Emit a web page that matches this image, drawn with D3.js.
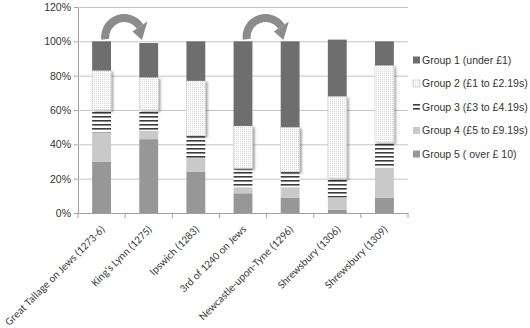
<!DOCTYPE html>
<html>
<head>
<meta charset="utf-8">
<script src="https://cdn.jsdelivr.net/npm/d3@7"></script>
<style>
  body { margin: 0; background: #fff; }
  svg { display: block; }
  .lbl { font-family: "Liberation Sans", Arial, sans-serif; }
</style>
</head>
<body>
<div id="chart"></div>
<script>
// data (percent of each tax list)
let categories = ["Great Tallage on Jews (1273-6)", "King's Lynn (1275)", "Ipswich (1283)",
    "3rd of 1240 on Jews", "Newcastle-upon-Tyne (1296)", "Shrewsbury (1306)", "Shrewsbury (1309)"];
let group1 = [17, 20, 23, 49.3, 50, 33, 14];
let group2 = [23, 19, 32, 24.7, 26, 48, 45];
let group3 = [13, 12, 13, 11, 9, 11, 14.5];
let group4 = [17, 5, 8, 3.5, 6, 7, 17.5];
let group5 = [30, 43, 24, 11.5, 9, 2, 9];
let groupNames = ["Group 1 (under \u00a31)", "Group 2 (\u00a31 to \u00a32.19s)", "Group 3 (\u00a33 to \u00a34.19s)",
    "Group 4 (\u00a35 to \u00a39.19s)", "Group 5 ( over \u00a3 10)"];
let yTicks = [0, 20, 40, 60, 80, 100, 120];
// arrows go from one bar to the next one
let arrowPairs = [[0, 1], [3, 4]];

let W = 530, H = 328;
let margin = {top: 7, right: 122, bottom: 115, left: 78};
let width = W - margin.left - margin.right,
    height = H - margin.top - margin.bottom;

let svg = d3.select("#chart").append("svg")
    .attr("width", W)
    .attr("height", H);

let defs = svg.append("defs");
let dots = defs.append("pattern")
    .attr("id", "dots").attr("patternUnits", "userSpaceOnUse")
    .attr("width", 2).attr("height", 2);
dots.append("rect").attr("width", 2).attr("height", 2).attr("fill", "#fff");
dots.append("rect").attr("width", 1).attr("height", 1).attr("fill", "#d6d6d6");

let stripes = defs.append("pattern")
    .attr("id", "stripes").attr("patternUnits", "userSpaceOnUse")
    .attr("width", 4).attr("height", 4);
stripes.append("rect").attr("width", 4).attr("height", 4).attr("fill", "#fff");
stripes.append("rect").attr("y", 1).attr("width", 4).attr("height", 1.6).attr("fill", "#3c3c3c");

let shadow = defs.append("filter").attr("id", "shadow")
    .attr("x", "-30%").attr("y", "-10%").attr("width", "160%").attr("height", "130%");
shadow.append("feDropShadow")
    .attr("dx", 2).attr("dy", 1.5).attr("stdDeviation", 1.2)
    .attr("flood-color", "#000").attr("flood-opacity", 0.35);

let g = svg.append("g")
    .attr("transform", "translate(" + margin.left + "," + margin.top + ")");

let x = d3.scaleBand()
    .domain(categories)
    .range([0, width])
    .paddingInner(0.6)
    .paddingOuter(0.3);

let y = d3.scaleLinear()
    .domain([0, 120])
    .range([height, 0]);

// gridlines + y labels
let yAxis = d3.axisLeft(y)
    .tickValues(yTicks)
    .tickSizeInner(-width)
    .tickSizeOuter(0)
    .tickPadding(7)
    .tickFormat(function (d) { return d + "%"; });

let yg = g.append("g").attr("class", "y axis").call(yAxis);
yg.attr("font-family", null).attr("font-size", null);
yg.select(".domain").attr("stroke", "#a0a0a0");
yg.selectAll(".tick line").attr("stroke", "#c4c4c4");
yg.selectAll(".tick text")
    .attr("class", "lbl")
    .attr("fill", "#333")
    .style("font-size", "10.5px");

// small outside ticks on the value axis
yg.selectAll(".tick").append("line")
    .attr("x1", -4).attr("x2", 0)
    .attr("stroke", "#a0a0a0");

// stacked bars
let rows = categories.map(function (c, i) {
    return {cat: c, g1: group1[i], g2: group2[i], g3: group3[i], g4: group4[i], g5: group5[i]};
});
let keys = ["g5", "g4", "g3", "g2", "g1"];
let fills = {g1: "#6e6e6e", g2: "url(#dots)", g3: "url(#stripes)", g4: "#c9c9c9", g5: "#979797"};
let series = d3.stack().keys(keys)(rows);

let layers = g.selectAll(".layer")
    .data(series)
    .enter().append("g")
    .attr("class", "layer")
    .attr("fill", function (d) { return fills[d.key]; })
    .attr("filter", function (d) { return d.key == "g2" ? "url(#shadow)" : null; });

layers.selectAll("rect")
    .data(function (d) { return d; })
    .enter().append("rect")
    .attr("x", function (d) { return x(d.data.cat); })
    .attr("y", function (d) { return y(d[1]); })
    .attr("width", x.bandwidth())
    .attr("height", function (d) { return y(d[0]) - y(d[1]); });

layers.filter(function (d) { return d.key == "g2"; })
    .selectAll("rect")
    .attr("stroke", "#c8c8c8")
    .attr("stroke-width", 0.6);

// category axis
let xAxis = d3.axisBottom(x).tickSize(0).tickPadding(0);
let xg = g.append("g")
    .attr("class", "x axis")
    .attr("transform", "translate(0," + height + ")")
    .call(xAxis);
xg.select(".domain").attr("stroke", "#a0a0a0");
xg.selectAll(".tick text")
    .attr("fill", "#404040")
    .style("font-family", "Carlito, 'Liberation Sans', Arial, sans-serif")
    .style("font-size", "11px")
    .style("text-anchor", "end")
    .attr("y", 0)
    .attr("dy", "0")
    .attr("transform", "translate(4,17) rotate(-45)");

// boundary ticks between categories
xg.selectAll(".bound")
    .data(d3.range(categories.length + 1))
    .enter().append("line")
    .attr("class", "bound")
    .attr("x1", function (i) { return i * x.step(); })
    .attr("x2", function (i) { return i * x.step(); })
    .attr("y1", 0).attr("y2", 5)
    .attr("stroke", "#a0a0a0");

// curved arrows above the bars
arrowPairs.forEach(function (p) {
    let cx = (x(categories[p[0]]) + x(categories[p[1]]) + x.bandwidth()) / 2 - 1;
    let cy = y(102.5);
    let rIn = 15, rOut = 23;
    let arc = d3.arc()
        .innerRadius(rIn).outerRadius(rOut)
        .startAngle(-Math.PI / 2 - 0.12).endAngle(Math.PI / 3.2);
    g.append("path")
        .attr("d", arc())
        .attr("transform", "translate(" + cx + "," + cy + ")")
        .attr("fill", "#8c8c8c");
    // head
    let a0 = Math.PI / 3.2, a1 = a0 + 0.75;
    function pt(r, a) { return [cx + r * Math.sin(a), cy - r * Math.cos(a)]; }
    let pts = [pt(rIn - 5, a0), pt(rOut + 5, a0), pt((rIn + rOut) / 2 - 1, a1)];
    g.append("path")
        .attr("d", "M" + pts.map(function (q) { return q.join(","); }).join("L") + "Z")
        .attr("fill", "#8c8c8c");
});

// legend
let legend = svg.append("g")
    .attr("transform", "translate(413,60)");
let legendFills = ["#6e6e6e", "url(#dots)", "url(#stripes)", "#c9c9c9", "#979797"];
let items = legend.selectAll(".item")
    .data(groupNames)
    .enter().append("g")
    .attr("class", "item")
    .attr("transform", function (d, i) { return "translate(0," + (i * 23.5) + ")"; });
items.append("rect")
    .attr("x", 0).attr("y", -3.5)
    .attr("width", 7).attr("height", 7)
    .attr("fill", function (d, i) { return legendFills[i]; })
    .attr("stroke", function (d, i) { return i == 1 ? "#bbb" : null; })
    .attr("stroke-width", 0.6);
items.append("text")
    .attr("class", "lbl")
    .attr("x", 9)
    .attr("dy", "0.35em")
    .attr("fill", "#333")
    .style("font-size", "10.5px")
    .text(function (d) { return d; });
</script>
</body>
</html>
